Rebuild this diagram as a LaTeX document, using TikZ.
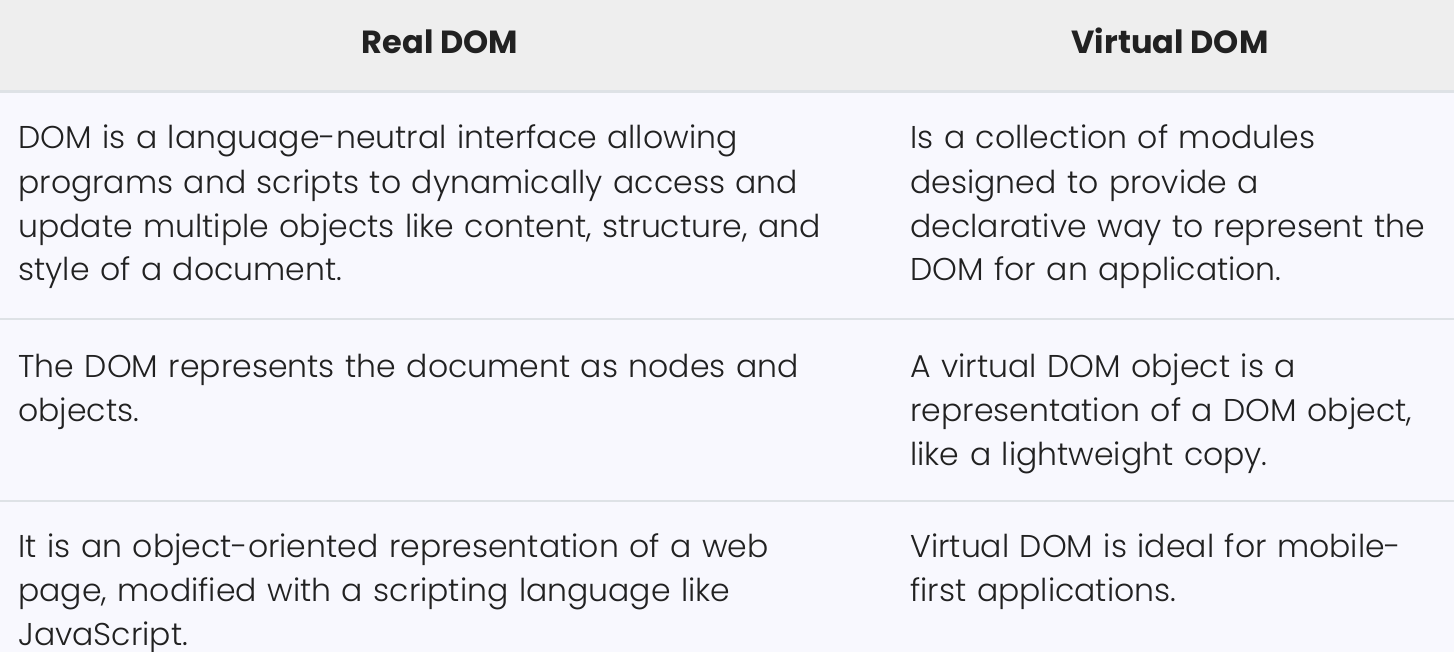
\documentclass[tikz,border=0pt]{standalone}
\usepackage{fontspec}
\setmainfont{Poppins}[UprightFont={* Light}, BoldFont={* Bold}]
\usetikzlibrary{positioning}
\definecolor{headfill}{HTML}{EEEEEE}
\definecolor{bodyfill}{HTML}{F8F8FE}
\definecolor{rulegray}{HTML}{DEE2E6}
\definecolor{ink}{HTML}{212121}

\begin{document}
\begin{tikzpicture}[x=0.5pt, y=-0.5pt,
  cell/.style={anchor=base west, align=left, inner sep=0pt, text=ink,
    text width=#1, font=\fontsize{15.75}{22}\selectfont},
  cell/.default=430pt,
  head/.style={anchor=base, inner sep=0pt, text=ink,
    font=\bfseries\fontsize{16}{22}\selectfont}]
\useasboundingbox (0,0) rectangle (1454,652);
% backgrounds and rules
\fill[bodyfill] (0,0) rectangle (1454,652);
\fill[headfill] (0,0) rectangle (1454,90);
\fill[rulegray] (0,90) rectangle (1454,93);
\fill[rulegray] (0,318) rectangle (1454,320);
\fill[rulegray] (0,500) rectangle (1454,502);
% header
\node[head] (real) at (440,54) {Real DOM};
\node[head] (virtual) at (1170,54) {Virtual DOM};
% rows
\node[cell] (r1) at (18,149) {DOM is a language-neutral interface allowing\\
  programs and scripts to dynamically access and\\
  update multiple objects like content, structure, and\\
  style of a document.};
\node[cell=270pt] (v1) at (910,149) {Is a collection of modules\\
  designed to provide a\\
  declarative way to represent the\\
  DOM for an application.};
\node[cell] (r2) at (18,377) {The DOM represents the document as nodes and\\
  objects.};
\node[cell=270pt] (v2) at (910,377) {A virtual DOM object is a\\
  representation of a DOM object,\\
  like a lightweight copy.};
\node[cell] (r3) at (18,557) {It is an object-oriented representation of a web\\
  page, modified with a scripting language like\\
  JavaScript.};
\node[cell=270pt] (v3) at (910,557) {Virtual DOM is ideal for mobile-\\
  first applications.};
\end{tikzpicture}
\end{document}
